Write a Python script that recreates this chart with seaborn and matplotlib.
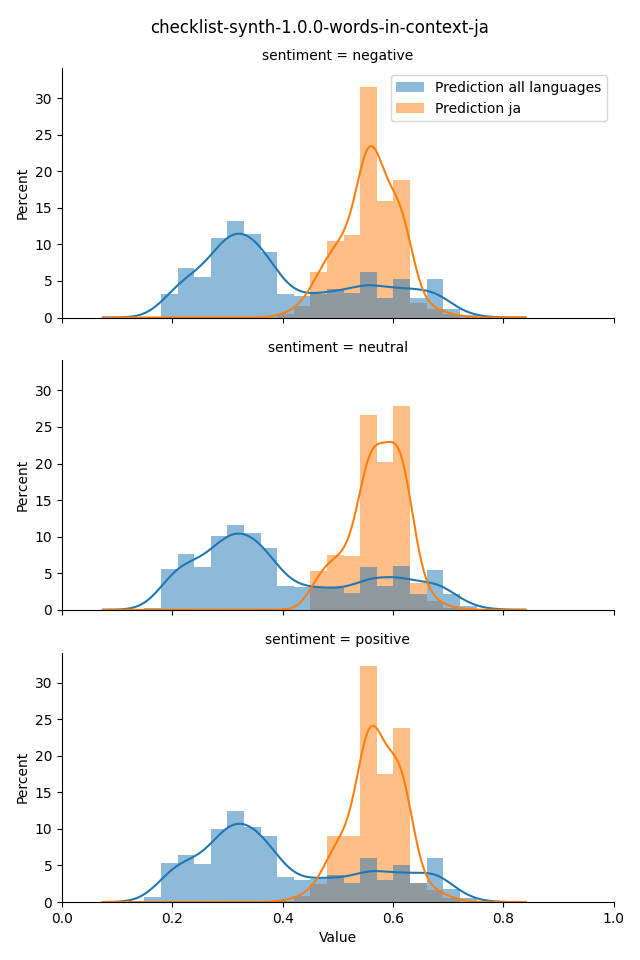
import numpy as np
import pandas as pd
import matplotlib
matplotlib.use("Agg")
import matplotlib.pyplot as plt
import seaborn as sns
from matplotlib.patches import Patch

# ---------------- data ----------------
title = "checklist-synth-1.0.0-words-in-context-ja"
sentiments = ["negative", "neutral", "positive"]
series_names = ["Prediction all languages", "Prediction ja"]

# bin centres of the histogram (bin width ~0.0301)
bin_centers = [0.164, 0.194, 0.224, 0.255, 0.285, 0.315, 0.345, 0.375, 0.405, 0.435,
               0.465, 0.495, 0.525, 0.556, 0.586, 0.616, 0.646, 0.676, 0.706, 0.736, 0.766]

# percent per bin
neg_all = [0.0, 3.24, 6.71, 5.48, 10.8, 13.15, 11.37, 8.9, 3.15, 2.95,
           3.2, 3.9, 3.3, 6.2, 2.7, 5.2, 2.7, 5.2, 1.1, 0.4, 0.0]
neg_ja = [0.0, 0.0, 0.0, 0.0, 0.0, 0.0, 0.0, 0.0, 0.55, 1.6,
          6.3, 10.5, 11.4, 31.8, 16.1, 18.9, 2.0, 1.2, 0.5, 0.0, 0.0]
neu_all = [0.2, 5.48, 7.53, 5.75, 10.0, 11.5, 10.4, 8.36, 3.29, 3.06,
           3.06, 3.0, 2.33, 5.75, 3.29, 5.94, 2.15, 5.34, 2.1, 0.55, 0.1]
neu_ja = [0.0, 0.0, 0.0, 0.0, 0.0, 0.0, 0.0, 0.0, 0.0, 0.0,
          5.34, 7.53, 7.3, 26.6, 20.2, 27.8, 3.6, 1.23, 0.3, 0.0, 0.0]
pos_all = [0.64, 5.34, 6.44, 5.2, 10.1, 12.6, 10.4, 9.18, 3.47, 3.1,
           3.2, 3.7, 2.6, 6.03, 3.0, 5.07, 2.65, 6.03, 1.78, 0.5, 0.0]
pos_ja = [0.0, 0.0, 0.0, 0.0, 0.0, 0.0, 0.0, 0.0, 0.2, 0.82,
          2.47, 9.18, 9.18, 32.6, 17.7, 24.0, 2.65, 1.73, 0.6, 0.0, 0.0]

series_values = {
    ("negative", series_names[0]): neg_all,
    ("negative", series_names[1]): neg_ja,
    ("neutral", series_names[0]): neu_all,
    ("neutral", series_names[1]): neu_ja,
    ("positive", series_names[0]): pos_all,
    ("positive", series_names[1]): pos_ja,
}

rows = []
for (sent, name), vals in series_values.items():
    for c, v in zip(bin_centers, vals):
        rows.append({"sentiment": sent, "series": name, "Value": c, "weight": v})
df = pd.DataFrame(rows)

# ---------------- style ----------------
BIN_LO, BIN_W, N_BINS = 0.1492, 0.0301, 21
edges = [float(BIN_LO + BIN_W * i) for i in range(N_BINS + 1)]
KDE_CLIP = (0.074, 0.84)
colors = {series_names[0]: "C0", series_names[1]: "C1"}
smooth = {series_names[0]: 0.031, series_names[1]: 0.022}

fig, axes = plt.subplots(3, 1, figsize=(6.4, 9.6), dpi=100, sharex=True, sharey=True)
fig.subplots_adjust(left=0.097, right=0.959, top=0.929, bottom=0.0604, hspace=0.172)

for ax, sent in zip(axes, sentiments):
    # draw "ja" first so that "all languages" bars lie on top (as seaborn's hue order)
    for name in [series_names[1], series_names[0]]:
        sub = df[(df["sentiment"] == sent) & (df["series"] == name)]
        std = float(np.sqrt(np.cov(sub["Value"].to_numpy(), aweights=sub["weight"].to_numpy())))
        sns.histplot(data=sub, x="Value", weights="weight", stat="percent",
                     bins=edges, kde=True,
                     kde_kws={"bw_method": smooth[name] / std, "cut": 10, "clip": KDE_CLIP},
                     color=colors[name], linewidth=0, alpha=0.5, ax=ax)
    if len(ax.lines) >= 1:
        ax.lines[0].set_zorder(2.2)
    ax.set_title(f"sentiment = {sent}", fontsize=10)
    ax.set_ylabel("Percent")
    ax.spines["top"].set_visible(False)
    ax.spines["right"].set_visible(False)

for ax in axes[:-1]:
    ax.set_xlabel("")
axes[-1].set_xlabel("Value")
axes[-1].set_xlim(0, 1)
axes[-1].set_xticks([0.0, 0.2, 0.4, 0.6, 0.8, 1.0])
axes[0].set_yticks([0, 5, 10, 15, 20, 25, 30])
axes[0].set_ylim(0, 34.1)

handles = [Patch(facecolor=colors[n], alpha=0.5, linewidth=0) for n in series_names]
axes[0].legend(handles, series_names, loc="upper right")

fig.suptitle(title, fontsize=12)
fig.savefig("out.png", dpi=100)
